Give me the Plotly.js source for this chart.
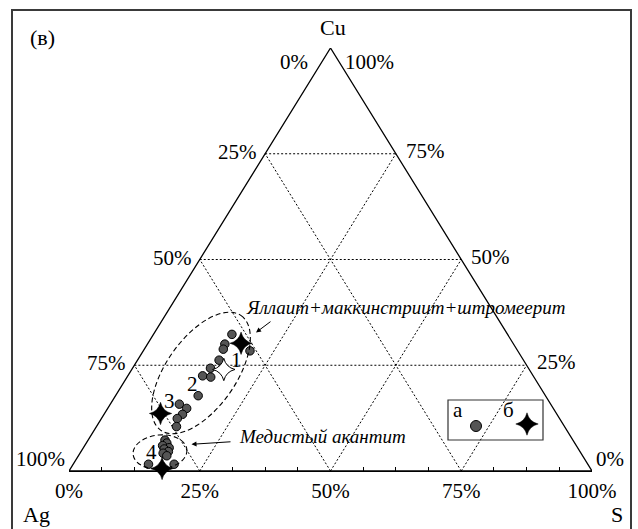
<!DOCTYPE html>
<html><head><meta charset="utf-8">
<script src="https://cdn.plot.ly/plotly-3.0.1.min.js"></script>
<style>html,body{margin:0;padding:0;background:#fff}#chart{width:638px;height:529px}</style>
</head><body><div id="chart"></div>
<script>
// ---- Data (ternary: Cu %, S %, Ag = 100 - Cu - S) ----
const pointsCu = [32.3, 30.0, 28.8, 28.4, 26.2, 24.3, 22.5, 22.2, 17.8, 15.8, 14.8, 13.4, 12.4, 10.5, 7.3, 6.6, 6.0, 5.5, 5.2, 4.6, 4.2, 3.6, 1.6, 1.6];
const pointsS  = [15.0, 14.8, 15.1, 20.4, 15.6, 14.9, 14.3, 16.0, 15.8, 13.2, 15.1, 15.0, 14.5, 15.3, 14.7, 15.4, 14.9, 16.4, 15.6, 16.7, 15.9, 16.9, 19.3, 14.4];
const starsCu = [30.2, 13.6, 0.6];
const starsS  = [17.8, 10.7, 17.5];
const openStarCu = [24.0];
const openStarS  = [17.6];

const gridLevels = [25, 50, 75];
const edgeLevels = [100, 75, 50, 25, 0];            // Cu level of label vertices
const leftTickText  = ['0%', '25%', '50%', '75%', '100%'];   // Ag % on left edge
const rightTickText = ['100%', '75%', '50%', '25%', '0%'];   // Cu % on right edge
const bottomTickVals = [0, 25, 50, 75, 100];
const bottomTickText = ['0%', '25%', '50%', '75%', '100%']; // S %
const cornerLabels = ['Cu', 'Ag', 'S'];
const panelLabel = '(в)';
const groupNames = ['Яллаит+маккинстриит+штромеерит', 'Медистый акантит'];
const numberLabels = ['1', '2', '3', '4'];
const legendLabels = ['а', 'б'];

// ---- Geometry ----
const W = 638, H = 529;
const P = {l: 69, t: 48, w: 523, h: 423};
const FONT = 'Liberation Serif';
function tern(cu, s) { return {x: s + cu / 2, y: cu}; }
function pd(px, py) { return {x: (px - P.l) / P.w * 100, y: (P.t + P.h - py) / P.h * 100}; }
function pp(px, py) { return {x: (px - P.l) / P.w, y: (P.t + P.h - py) / P.h}; }

const pa = pointsCu.map((c, i) => tern(c, pointsS[i]));
const sb = starsCu.map((c, i) => tern(c, starsS[i]));
const so = openStarCu.map((c, i) => tern(c, openStarS[i]));

// triangle and grid
const tri = [tern(100, 0), tern(0, 0), tern(0, 100), tern(100, 0)];
const gx = [], gy = [];
gridLevels.forEach(v => {
  [[tern(v, 0), tern(v, 100 - v)],
   [tern(0, v), tern(100 - v, v)],
   [tern(0, 100 - v), tern(100 - v, 0)]].forEach(seg => {
    gx.push(seg[0].x, seg[1].x, null); gy.push(seg[0].y, seg[1].y, null);
  });
});

// ellipse path (pixel geometry -> data)
function ellipsePath(cx, cy, a, b, angDeg) {
  const t = angDeg * Math.PI / 180, k = 0.5523;
  const u = [a * Math.cos(t), -a * Math.sin(t)], v = [b * Math.sin(t), b * Math.cos(t)];
  const vecs = [u, v, [-u[0], -u[1]], [-v[0], -v[1]], u];
  const f = (px, py) => { const d = pd(px, py); return d.x.toFixed(3) + ',' + d.y.toFixed(3); };
  let s = 'M' + f(cx + u[0], cy + u[1]);
  for (let i = 0; i < 4; i++) {
    const A = vecs[i], B = vecs[i + 1];
    s += ' C' + f(cx + A[0] + k * B[0], cy + A[1] + k * B[1]) + ' ' +
         f(cx + k * A[0] + B[0], cy + k * A[1] + B[1]) + ' ' + f(cx + B[0], cy + B[1]);
  }
  return s + ' Z';
}

const traces = [
  {x: gx, y: gy, mode: 'lines', line: {color: 'black', width: 1, dash: '2px,2px'}, hoverinfo: 'skip'},
  {x: tri.map(p => p.x), y: tri.map(p => p.y), mode: 'lines', line: {color: 'black', width: 1.3}, cliponaxis: false, hoverinfo: 'skip'},
  {x: pa.map(p => p.x), y: pa.map(p => p.y), mode: 'markers', name: legendLabels[0], cliponaxis: false,
   marker: {symbol: 'circle', size: 8.5, color: '#555555', line: {color: 'black', width: 1}}},
  {x: so.map(p => p.x), y: so.map(p => p.y), mode: 'markers', cliponaxis: false,
   marker: {symbol: 'star-diamond', size: 16, color: 'white', line: {color: 'black', width: 1}}},
  {x: sb.map(p => p.x), y: sb.map(p => p.y), mode: 'markers', name: legendLabels[1], cliponaxis: false,
   marker: {symbol: 'star-diamond', size: 16, color: 'black', line: {color: 'black', width: 0.5}}},
];
// legend keys
const lk1 = pd(476, 426), lk2 = pd(527, 424);
traces.push({x: [lk1.x], y: [lk1.y], mode: 'markers', marker: {symbol: 'circle', size: 11, color: '#555555', line: {color: 'black', width: 1}}});
traces.push({x: [lk2.x], y: [lk2.y], mode: 'markers', marker: {symbol: 'star-diamond', size: 16, color: 'black', line: {color: 'black', width: 0.5}}});
// carrier trace for the tick-mark axis
traces.push({x: [0], y: [0], xaxis: 'x2', yaxis: 'y', mode: 'markers', marker: {opacity: 0}, hoverinfo: 'skip'});

const tf = {family: FONT, size: 21, color: 'black'};
const ann = [];
edgeLevels.forEach((c, i) => {
  const v = tern(c, 0);
  let xs = -6, ys = 2;
  if (c === 100) { xs = -21; ys = -14; }
  if (c === 0) { xs = -2; ys = 12; }
  ann.push({x: v.x, y: v.y, xref: 'x', yref: 'y', text: leftTickText[i], showarrow: false,
            xanchor: 'right', yanchor: 'middle', xshift: xs, yshift: ys, font: tf});
});
edgeLevels.forEach((c, i) => {
  const v = tern(c, 100 - c);
  let xs = 8, ys = 3;
  if (c === 100) { xs = 12; ys = -14; }
  if (c === 0) { xs = 2; ys = 12; }
  ann.push({x: v.x, y: v.y, xref: 'x', yref: 'y', text: rightTickText[i], showarrow: false,
            xanchor: 'left', yanchor: 'middle', xshift: xs, yshift: ys, font: tf});
});
// corner labels (paper refs so they can sit outside the triangle's range)
const cornerPos = [pp(333, 27.5), pp(36, 514), pp(617, 514)];
cornerLabels.forEach((t, i) => ann.push({x: cornerPos[i].x, y: cornerPos[i].y, xref: 'paper', yref: 'paper', text: t,
  showarrow: false, xanchor: 'center', yanchor: 'middle', font: {family: FONT, size: 22, color: 'black'}}));
const pl = pp(42, 38);
ann.push({x: pl.x, y: pl.y, xref: 'paper', yref: 'paper', text: panelLabel, showarrow: false, xanchor: 'center', yanchor: 'middle',
  font: {family: FONT, size: 22, color: 'black'}});
const numPos = [pd(236.7, 360), pd(192.5, 383.5), pd(169.2, 401), pd(151.2, 451.5)];
numberLabels.forEach((t, i) => ann.push({x: numPos[i].x, y: numPos[i].y, xref: 'x', yref: 'y', text: t,
  showarrow: false, xanchor: 'center', yanchor: 'middle', font: {family: FONT, size: 21, color: 'black'}}));
const gf = {family: FONT, size: 19, color: 'black', style: 'italic'};
const g1 = pd(244, 307), g2 = pd(237, 436);
ann.push({x: g1.x, y: g1.y, xref: 'x', yref: 'y', text: groupNames[0], showarrow: false, xanchor: 'left', yanchor: 'middle', font: gf});
ann.push({x: g2.x, y: g2.y, xref: 'x', yref: 'y', text: groupNames[1], showarrow: false, xanchor: 'left', yanchor: 'middle', font: gf});
const a1h = pd(256, 332.5), a1t = pd(272, 320.5), a2h = pd(191.5, 444.3), a2t = pd(232, 441.7);
[[a1h, a1t], [a2h, a2t]].forEach(([h, t]) => ann.push({x: h.x, y: h.y, ax: t.x, ay: t.y, xref: 'x', yref: 'y', axref: 'x', ayref: 'y',
  text: '', showarrow: true, arrowhead: 2, arrowsize: 1, arrowwidth: 1, arrowcolor: 'black', standoff: 0}));
const la = pd(458, 410), lb = pd(508, 410);
ann.push({x: la.x, y: la.y, xref: 'x', yref: 'y', text: legendLabels[0], showarrow: false, xanchor: 'center', yanchor: 'middle', font: tf});
ann.push({x: lb.x, y: lb.y, xref: 'x', yref: 'y', text: legendLabels[1], showarrow: false, xanchor: 'center', yanchor: 'middle', font: tf});

const fr0 = pp(12, 545), fr1 = pp(631, 10);
const lb0 = pd(448, 440), lb1 = pd(543, 400);
const shapes = [
  {type: 'rect', xref: 'paper', yref: 'paper', x0: fr0.x, y0: fr0.y, x1: fr1.x, y1: fr1.y, line: {color: '#3a3a3a', width: 2}},
  {type: 'path', xref: 'x', yref: 'y', path: ellipsePath(201, 373, 70, 35, 55), line: {color: 'black', width: 1.1, dash: '5px,3px'}},
  {type: 'path', xref: 'x', yref: 'y', path: ellipsePath(160, 452, 27, 17, 5), line: {color: 'black', width: 1.1, dash: '5px,3px'}},
  {type: 'rect', xref: 'x', yref: 'y', x0: lb0.x, y0: lb0.y, x1: lb1.x, y1: lb1.y, line: {color: '#333333', width: 1.2}},
];

const minorVals = [];
for (let i = 1; i < 16; i++) if (i % 4 !== 0) minorVals.push(i * 6.25);

const layout = {
  width: W, height: H, showlegend: false,
  margin: {l: P.l, r: W - P.l - P.w, t: P.t, b: H - P.t - P.h, pad: 0},
  paper_bgcolor: 'white', plot_bgcolor: 'white',
  xaxis: {range: [0, 100], showgrid: false, zeroline: false, showline: true, linecolor: 'black', linewidth: 1.3,
          tickmode: 'array', tickvals: bottomTickVals, ticktext: bottomTickText, ticks: '', tickfont: tf,
          ticklabelstandoff: 0, fixedrange: true},
  xaxis2: {range: [0, 100], overlaying: 'x', anchor: 'y', side: 'bottom', showgrid: false, zeroline: false, showline: false,
           tickmode: 'array', tickvals: minorVals, ticks: 'inside', ticklen: 4, tickwidth: 1, tickcolor: 'black',
           showticklabels: false, fixedrange: true},
  yaxis: {range: [0, 100], visible: false, fixedrange: true},
  annotations: ann, shapes: shapes,
};
Plotly.newPlot('chart', traces, layout, {staticPlot: true, displayModeBar: false});
</script></body></html>
